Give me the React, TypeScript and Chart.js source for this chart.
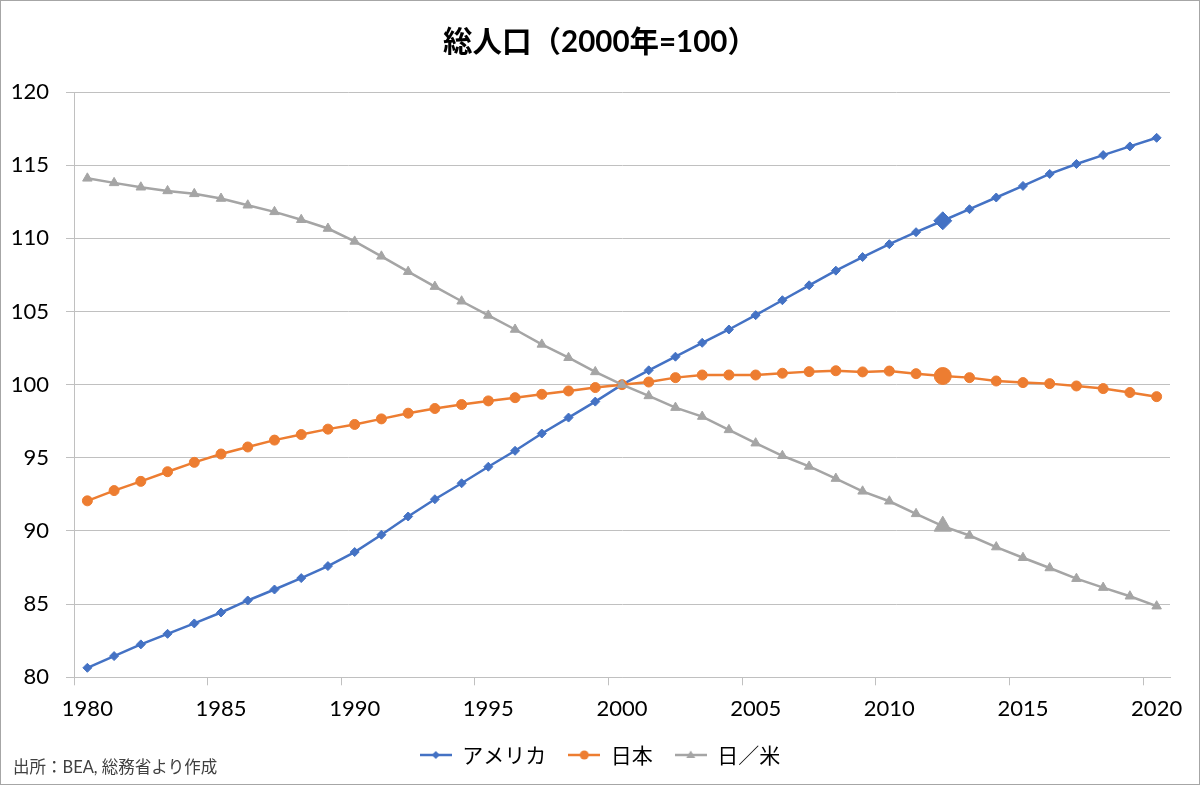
import React, { useEffect, useRef } from "react";
import { Chart, registerables } from "chart.js";

Chart.register(...registerables);

const TITLE = "総人口（2000年=100）";
const FOOTNOTE = "出所：BEA, 総務省より作成";

const YEARS = [
  "1980", "1981", "1982", "1983", "1984", "1985", "1986", "1987", "1988", "1989",
  "1990", "1991", "1992", "1993", "1994", "1995", "1996", "1997", "1998", "1999",
  "2000", "2001", "2002", "2003", "2004", "2005", "2006", "2007", "2008", "2009",
  "2010", "2011", "2012", "2013", "2014", "2015", "2016", "2017", "2018", "2019",
  "2020",
];

const SERIES_NAMES = ["アメリカ", "日本", "日／米"];

const USA = [
  80.65, 81.45, 82.25, 82.97, 83.68, 84.43, 85.25, 86.0, 86.78, 87.6,
  88.56, 89.74, 90.99, 92.17, 93.26, 94.39, 95.48, 96.66, 97.75, 98.84,
  100.0, 100.98, 101.91, 102.86, 103.77, 104.75, 105.77, 106.79, 107.79, 108.72,
  109.6, 110.42, 111.2, 111.99, 112.79, 113.58, 114.4, 115.08, 115.69, 116.28,
  116.87,
];

const JAPAN = [
  92.06, 92.76, 93.39, 94.05, 94.69, 95.26, 95.74, 96.21, 96.59, 96.96,
  97.28, 97.66, 98.05, 98.37, 98.64, 98.89, 99.11, 99.34, 99.57, 99.8,
  100.0, 100.18, 100.48, 100.66, 100.66, 100.66, 100.78, 100.89, 100.95, 100.87,
  100.93, 100.75, 100.59, 100.48, 100.25, 100.14, 100.07, 99.91, 99.73, 99.46,
  99.18,
];

const RATIO = [
  114.1, 113.79, 113.49, 113.24, 113.04, 112.72, 112.26, 111.81, 111.27, 110.67,
  109.79, 108.77, 107.72, 106.7, 105.7, 104.73, 103.77, 102.75, 101.84, 100.87,
  100.0, 99.23, 98.43, 97.82, 96.91, 96.0, 95.14, 94.41, 93.58, 92.71,
  92.03, 91.17, 90.33, 89.69, 88.9, 88.17, 87.47, 86.74, 86.13, 85.54,
  84.86,
];

const Y_MIN = 80;
const Y_MAX = 120;
const Y_STEP = 5;
const LABEL_EVERY = 5;
const HIGHLIGHT_YEAR = "2012";

const COLORS = ["#4472C4", "#ED7D31", "#A5A5A5"];
const POINT_STYLES = ["rectRot", "circle", "triangle"];
const POINT_SIZES = [4.5, 5, 5.5];
const POINT_SIZES_BIG = [9, 8.5, 10];

const GRID = "#c0c0c0";
const TICK_FONT = { family: 'Lato, "Noto Sans CJK JP", sans-serif', size: 22 };

function makeIcon(color: string, kind: string): HTMLCanvasElement {
  const c = document.createElement("canvas");
  c.width = 32;
  c.height = 14;
  const g = c.getContext("2d")!;
  g.strokeStyle = color;
  g.fillStyle = color;
  g.lineWidth = 2.5;
  g.beginPath();
  g.moveTo(0, 7);
  g.lineTo(32, 7);
  g.stroke();
  g.beginPath();
  if (kind === "rectRot") {
    g.moveTo(16, 3);
    g.lineTo(20, 7);
    g.lineTo(16, 11);
    g.lineTo(12, 7);
    g.closePath();
  } else if (kind === "circle") {
    g.arc(16, 7, 4.5, 0, Math.PI * 2);
  } else {
    g.moveTo(16, 2.5);
    g.lineTo(20.5, 10);
    g.lineTo(11.5, 10);
    g.closePath();
  }
  g.fill();
  return c;
}

const footnotePlugin = {
  id: "footnote",
  afterDraw(chart: any) {
    const ctx = chart.ctx;
    ctx.save();
    ctx.font = '16.5px Lato, "Noto Sans CJK JP", sans-serif';
    ctx.fillStyle = "#404040";
    ctx.textAlign = "left";
    ctx.textBaseline = "middle";
    ctx.fillText(FOOTNOTE, 13, 768);
    ctx.restore();
  },
};

export default function App() {
  const ref = useRef<HTMLCanvasElement | null>(null);

  useEffect(() => {
    document.body.style.margin = "0";
    const canvas = ref.current;
    if (!canvas) return;
    const hi = YEARS.indexOf(HIGHLIGHT_YEAR);
    const values = [USA, JAPAN, RATIO];
    const icons = COLORS.map((c, i) => makeIcon(c, POINT_STYLES[i]));

    const datasets = values.map((data, i) => ({
      label: SERIES_NAMES[i],
      data,
      borderColor: COLORS[i],
      backgroundColor: COLORS[i],
      pointBackgroundColor: COLORS[i],
      pointBorderColor: COLORS[i],
      pointBorderWidth: 1,
      borderWidth: 2.5,
      tension: 0,
      pointStyle: POINT_STYLES[i] as any,
      pointRadius: (ctx: any) => (ctx.dataIndex === hi ? POINT_SIZES_BIG[i] : POINT_SIZES[i]),
      order: values.length - 1 - i,
    }));

    const chart = new Chart(canvas, {
      type: "line",
      data: { labels: YEARS, datasets },
      plugins: [footnotePlugin],
      options: {
        animation: false,
        responsive: false,
        layout: { padding: { left: 0, right: 0, top: 0, bottom: 9.5 } },
        scales: {
          x: {
            type: "category",
            offset: true,
            grid: {
              offset: true,
              drawOnChartArea: false,
              drawTicks: true,
              tickLength: 8,
              tickColor: (ctx: any) =>
                ctx.index !== undefined && ctx.index % LABEL_EVERY === 0 ? GRID : "rgba(0,0,0,0)",
            },
            border: { display: true, color: GRID, width: 1 },
            ticks: {
              autoSkip: false,
              maxRotation: 0,
              minRotation: 0,
              padding: 10,
              color: "#000",
              font: TICK_FONT,
              callback: function (this: any, value: any, index: number) {
                return index % LABEL_EVERY === 0 ? this.getLabelForValue(value) : "";
              },
            },
            afterFit: (s: any) => {
              s.height = 45.2;
            },
          },
          y: {
            min: Y_MIN,
            max: Y_MAX,
            grid: { color: GRID, tickLength: 8, lineWidth: 1 },
            border: { display: true, color: GRID, width: 1 },
            ticks: { stepSize: Y_STEP, padding: 17, color: "#000", font: TICK_FONT },
            afterFit: (s: any) => {
              s.width = 74;
            },
          },
          yRight: {
            position: "right",
            display: true,
            grid: { display: false },
            border: { display: false },
            ticks: { display: false },
            afterFit: (s: any) => {
              s.width = 30;
            },
          },
        },
        plugins: {
          tooltip: { enabled: false },
          title: {
            display: true,
            text: TITLE,
            color: "#000",
            font: { family: 'Lato, "Noto Sans CJK JP", sans-serif', size: 29.5, weight: "bold" },
            padding: { top: 25, bottom: 31.6 },
          },
          legend: {
            display: true,
            position: "bottom",
            labels: {
              usePointStyle: true,
              pointStyleWidth: 32,
              padding: 22,
              color: "#333",
              font: { family: '"Noto Sans CJK JP", sans-serif', size: 21 },
              generateLabels: () =>
                SERIES_NAMES.map((name, i) => ({
                  text: name,
                  fillStyle: COLORS[i],
                  strokeStyle: COLORS[i],
                  lineWidth: 0,
                  pointStyle: icons[i] as any,
                  hidden: false,
                  datasetIndex: i,
                })),
            },
          },
        },
      } as any,
    });

    return () => chart.destroy();
  }, []);

  return (
    <div style={{ position: "relative", width: 1200, height: 785, background: "#fff" }}>
      <canvas ref={ref} width={1200} height={785} style={{ display: "block" }} />
      <div
        style={{
          position: "absolute",
          left: 0,
          top: 0,
          width: 1200,
          height: 785,
          boxSizing: "border-box",
          border: "1px solid #a6a6a6",
          pointerEvents: "none",
        }}
      />
    </div>
  );
}
